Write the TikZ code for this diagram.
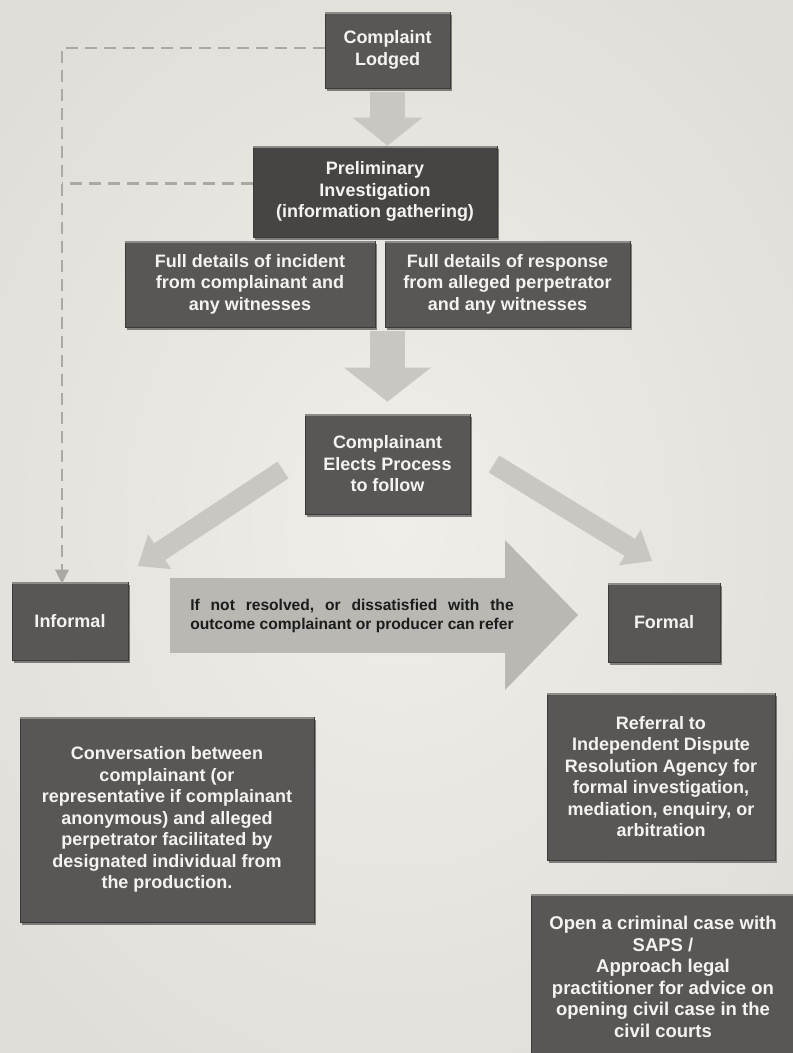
\documentclass[tikz,border=0pt]{standalone}
\usepackage{fontspec}
\setmainfont{Liberation Sans}
\usetikzlibrary{arrows.meta,shadows,calc}
\definecolor{bgin}{HTML}{EFEEE9}
\definecolor{bgout}{HTML}{E0DED9}
\definecolor{boxfill}{HTML}{585755}
\definecolor{boxdark}{HTML}{464544}
\definecolor{boxedge}{HTML}{3C3B3A}
\definecolor{boxhl}{HTML}{8C8B88}
\definecolor{arrowc}{HTML}{C9C7C2}
\definecolor{bigarrowc}{HTML}{BAB8B3}
\definecolor{dashc}{HTML}{ABA9A4}
\definecolor{boxtext}{HTML}{F4F3F0}
\definecolor{arrowtext}{HTML}{1C1C1C}
\begin{document}
\begin{tikzpicture}[x=1pt,y=-1pt,
  box/.style={draw=boxedge, line width=0.8pt, fill=boxfill, text=boxtext,
    font=\bfseries\fontsize{18}{21.5}\selectfont, align=center, inner sep=0pt,
    drop shadow={shadow xshift=1.5pt, shadow yshift=-2.5pt, fill=black, opacity=0.45}},
  hl/.style={draw=boxhl, line width=1.6pt},
  blk/.style={draw=arrowc, line width=35pt, -{Triangle[width=70pt,length=28pt,line width=0pt]}},
  blkbig/.style={draw=arrowc, line width=35pt, -{Triangle[width=87pt,length=34pt,line width=0pt]}},
  blkdiag/.style={draw=arrowc, line width=20pt, -{Triangle[width=42pt,length=26pt,line width=0pt]}},
  blkwide/.style={draw=bigarrowc, line width=75pt, -{Triangle[width=150pt,length=73pt,line width=0pt]}},
  dashline/.style={draw=dashc, line width=2.8pt, dash pattern=on 12pt off 7pt,
    -{Triangle[width=14pt,length=14pt,line width=0pt]}},
  dashplain/.style={draw=dashc, line width=2.8pt, dash pattern=on 12pt off 7pt}
]
\useasboundingbox (0,0) rectangle (793,1053);
\shade[inner color=bgin, outer color=bgout] (-120,-120) rectangle (913,1173);

% nodes
\node[box, minimum width=125pt, minimum height=76pt] (cl) at (387.5,50) {Complaint\\Lodged};
\node[box, fill=boxdark, minimum width=244pt, minimum height=91pt] (pi) at (375,191.5) {Preliminary\\Investigation\\(information gathering)};
\node[box, minimum width=250pt, minimum height=86pt] (d1) at (250,284) {Full details of incident\\from complainant and\\any witnesses};
\node[box, minimum width=245pt, minimum height=86pt] (d2) at (507.5,284) {Full details of response\\from alleged perpetrator\\and any witnesses};
\node[box, minimum width=165pt, minimum height=100pt] (ce) at (387.5,464) {Complainant\\Elects Process\\to follow};
\node[box, minimum width=116pt, minimum height=78pt] (inf) at (70,621) {Informal};
\node[box, minimum width=112pt, minimum height=79pt] (fm) at (664,622.5) {Formal};
\node[box, minimum width=294pt, minimum height=205pt] (conv) at (167,819.5) {Conversation between\\complainant (or\\representative if complainant\\anonymous) and alleged\\perpetrator facilitated by\\designated individual from\\the production.};
\node[box, minimum width=228pt, minimum height=167pt] (ref) at (661,776.5) {Referral to\\Independent Dispute\\Resolution Agency for\\formal investigation,\\mediation, enquiry, or\\arbitration};
\node[box, minimum width=264pt, minimum height=166pt, font=\bfseries\fontsize{18.5}{21.5}\selectfont] (crim) at (663,977) {Open a criminal case with\\SAPS /\\Approach legal\\practitioner for advice on\\opening civil case in the\\civil courts};

\foreach \n in {cl,pi,d1,d2,ce,inf,fm,conv,ref,crim}
  \draw[hl] ([yshift=-1.2pt,xshift=0.8pt]\n.north west) -- ([yshift=-1.2pt,xshift=-0.8pt]\n.north east);

% block arrows
\draw[blk] ([yshift=-4pt]cl.south) -- (cl.south |- pi.north);
\coordinate (a2s) at ([yshift=-4pt]ce.north |- d1.south);
\coordinate (a2e) at ([yshift=12pt]ce.north);
\draw[blkbig] (a2s) -- (a2e);
\coordinate (la0) at (283,470);
\coordinate (la1) at (138,566);
\draw[blkdiag] (la0) -- (la1);
\coordinate (ra0) at (494,464);
\coordinate (ra1) at (652,561);
\draw[blkdiag] (ra0) -- (ra1);
\coordinate (ba0) at (170,615);
\coordinate (ba1) at (578,615);
\draw[blkwide] (ba0) -- (ba1);
\node[text=arrowtext, font=\bfseries\fontsize{15.6}{19}\selectfont, inner sep=0pt] (refer) at (352,615.5)
  {\setbox0=\hbox{outcome complainant or producer can refer}%
   \vbox{\hbox to\wd0{If\hfill not\hfill resolved,\hfill or\hfill dissatisfied\hfill with\hfill the}\box0}};

% dashed connectors
\coordinate (vx) at (62,0);
\draw[dashline] ([yshift=2pt]cl.west) -| ([xshift=-8pt,yshift=-2pt]inf.north);
\draw[dashplain] ([yshift=8pt]pi.west) -- ([yshift=8pt]pi.west -| vx);
\end{tikzpicture}
\end{document}
